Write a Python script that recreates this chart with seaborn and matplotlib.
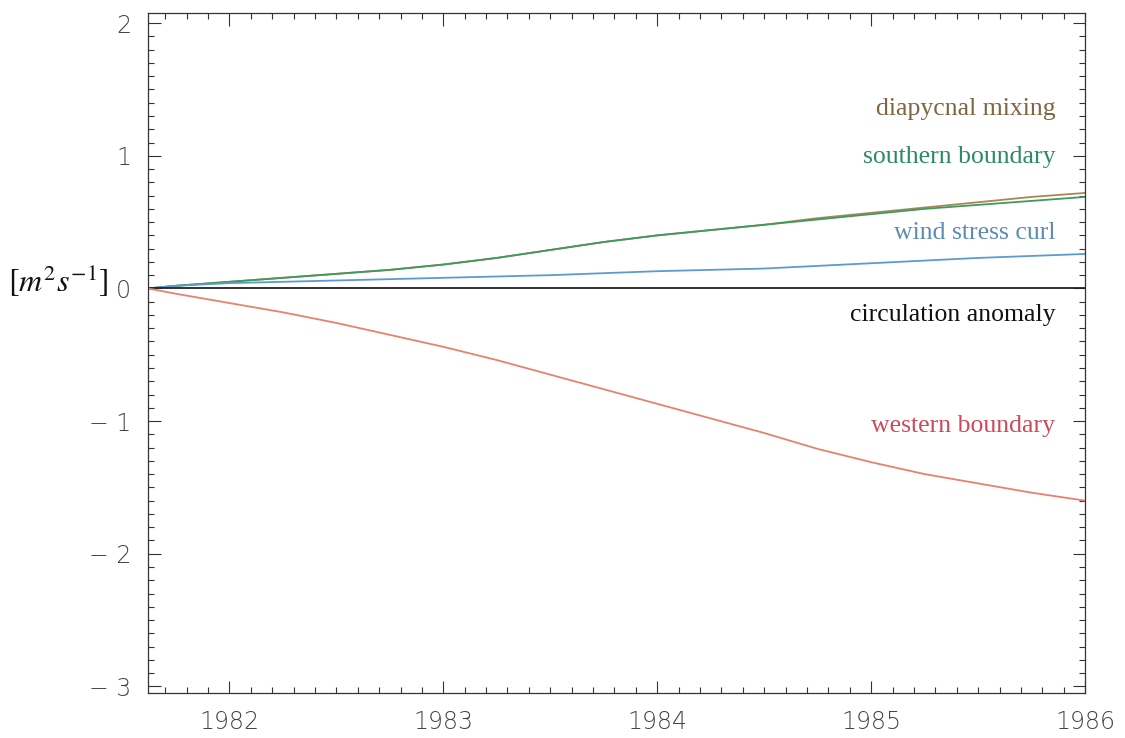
import numpy as np
import pandas as pd
import matplotlib
matplotlib.use("Agg")
import matplotlib.pyplot as plt
from matplotlib.ticker import MultipleLocator
import seaborn as sns

# ---- data ----
years = [1981.62, 1981.75, 1982.0, 1982.25, 1982.5, 1982.75, 1983.0, 1983.25, 1983.5,
         1983.75, 1984.0, 1984.25, 1984.5, 1984.75, 1985.0, 1985.25, 1985.5, 1985.75, 1986.0]
diapycnal_mixing = [0.0, 0.02, 0.05, 0.08, 0.11, 0.14, 0.18, 0.23, 0.29, 0.35,
                    0.40, 0.44, 0.48, 0.53, 0.57, 0.61, 0.65, 0.69, 0.72]
southern_boundary = [0.0, 0.02, 0.05, 0.08, 0.11, 0.14, 0.18, 0.23, 0.29, 0.35,
                     0.40, 0.44, 0.48, 0.52, 0.56, 0.60, 0.63, 0.66, 0.69]
wind_stress_curl = [0.0, 0.02, 0.04, 0.05, 0.06, 0.07, 0.08, 0.09, 0.10, 0.115,
                    0.13, 0.14, 0.15, 0.17, 0.19, 0.21, 0.23, 0.245, 0.26]
circulation_anomaly = [0.0] * 19
western_boundary = [0.0, -0.04, -0.11, -0.18, -0.26, -0.35, -0.44, -0.54, -0.65, -0.76,
                    -0.87, -0.98, -1.09, -1.21, -1.31, -1.40, -1.47, -1.54, -1.60]

series_names = ["diapycnal mixing", "southern boundary", "wind stress curl",
                "circulation anomaly", "western boundary"]
series_values = [diapycnal_mixing, southern_boundary, wind_stress_curl,
                 circulation_anomaly, western_boundary]
label_y = [1.35, 0.99, 0.42, -0.20, -1.04]
x_ticks = [1982, 1983, 1984, 1985, 1986]
y_ticks = [-3, -2, -1, 0, 1, 2]

line_colors = ["#a8865a", "#3f9a5c", "#5b9bd0", "#222222", "#e58270"]
text_colors = ["#7d6640", "#2b8a68", "#5b8db5", "#111111", "#cc4a5a"]

df = pd.DataFrame({
    "year": np.tile(years, len(series_names)),
    "value": np.concatenate(series_values),
    "series": np.repeat(series_names, len(years)),
})

sns.set_theme(style="white")
plt.rcParams["mathtext.fontset"] = "stix"

fig = plt.figure(figsize=(11.25, 7.38), dpi=100)
ax = fig.add_axes([0.1316, 0.061, 0.833, 0.922])

sns.lineplot(data=df, x="year", y="value", hue="series", hue_order=series_names,
             palette=dict(zip(series_names, line_colors)), linewidth=1.3,
             legend=False, ax=ax)

ax.set_xlim(1981.62, 1986.0)
ax.set_ylim(-3.05, 2.08)
ax.set_xticks(x_ticks)
ax.set_yticks(y_ticks)
ax.set_xticklabels([str(t) for t in x_ticks])
ax.set_yticklabels([("\u2212 " + str(abs(t))) if t < 0 else str(t) for t in y_ticks])
ax.xaxis.set_minor_locator(MultipleLocator(0.1))
ax.yaxis.set_minor_locator(MultipleLocator(0.1))
ax.tick_params(which="both", direction="in", top=True, right=True,
               bottom=True, left=True, color="#333333", width=0.8)
ax.tick_params(which="major", length=9, labelsize=17, labelcolor="#444444", pad=12)
ax.tick_params(which="minor", length=4)
for lab in ax.get_xticklabels() + ax.get_yticklabels():
    lab.set_fontfamily("DejaVu Sans")
    lab.set_fontweight("light")
for sp in ax.spines.values():
    sp.set_color("#333333")
    sp.set_linewidth(0.9)

ax.set_xlabel("")
ax.set_ylabel(r"$[m^2 s^{-1}]$", rotation=0, fontsize=23, color="#111111",
              ha="right", va="center")
ax.yaxis.set_label_coords(-0.042, 0.605)

for name, yy, c in zip(series_names, label_y, text_colors):
    ax.text(1985.86, yy, name, ha="right", va="center", fontsize=18.5,
            family="Liberation Serif", color=c)

fig.savefig("out.png", dpi=100, facecolor="white")
